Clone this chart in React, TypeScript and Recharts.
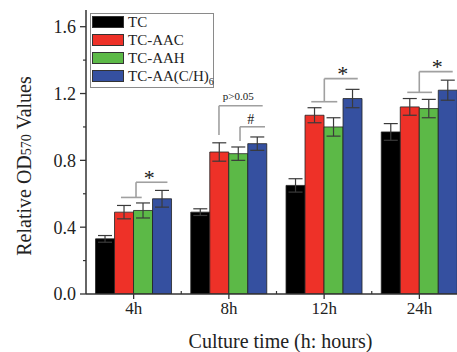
// Relative OD570 bar chart with error bars and significance brackets

import { BarChart, Bar, XAxis, YAxis, ErrorBar, Legend, Label, ReferenceLine, ReferenceDot } from 'recharts'

const FONT = '"Liberation Serif", "Times New Roman", serif'

const categories = ['4h', '8h', '12h', '24h']
const tc = [0.33, 0.49, 0.65, 0.97]
const tcErr = [0.02, 0.02, 0.04, 0.05]
const aac = [0.49, 0.85, 1.07, 1.12]
const aacErr = [0.04, 0.055, 0.045, 0.05]
const aah = [0.5, 0.84, 1.0, 1.11]
const aahErr = [0.045, 0.04, 0.055, 0.055]
const aach = [0.57, 0.9, 1.17, 1.22]
const aachErr = [0.05, 0.04, 0.055, 0.06]
const yTicks = [0, 0.2, 0.4, 0.6, 0.8, 1.0, 1.2, 1.4, 1.6]

// brackets in data units (x: group index 0..4 across the bands)
const brackets: [number, number][][] = [
  [[0.367, 0.578], [0.585, 0.578]],
  [[0.525, 0.578], [0.525, 0.669], [0.855, 0.669]],
  [[1.396, 0.952], [1.396, 1.127], [1.855, 1.127]],
  [[1.617, 0.916], [1.617, 1.001], [1.879, 1.001]],
  [[2.365, 1.151], [2.638, 1.151]],
  [[2.502, 1.151], [2.502, 1.289], [2.853, 1.289]],
  [[3.373, 1.207], [3.633, 1.207]],
  [[3.499, 1.207], [3.499, 1.331], [3.85, 1.331]],
]
const marks: { x: number; y: number; text: string; size: number }[] = [
  { x: 0.665, y: 0.7, text: '*', size: 22 },
  { x: 1.599, y: 1.185, text: 'p>0.05', size: 11 },
  { x: 1.729, y: 1.048, text: '#', size: 14 },
  { x: 2.695, y: 1.32, text: '*', size: 22 },
  { x: 3.688, y: 1.365, text: '*', size: 22 },
]

const series = [
  { key: 'tc', err: 'tcErr', color: '#000000', name: 'TC' },
  { key: 'aac', err: 'aacErr', color: '#ee3128', name: 'TC-AAC' },
  { key: 'aah', err: 'aahErr', color: '#5cb947', name: 'TC-AAH' },
  { key: 'aach', err: 'aachErr', color: '#3550a0', name: 'TC-AA(C/H)' },
]

const data = categories.map((name, i) => ({
  name,
  pos: i + 0.5,
  tc: tc[i],
  tcErr: tcErr[i],
  aac: aac[i],
  aacErr: aacErr[i],
  aah: aah[i],
  aahErr: aahErr[i],
  aach: aach[i],
  aachErr: aachErr[i],
}))

function YTick({ x, y, payload }: any) {
  const v = payload.value
  const major = Math.round(v * 10) % 4 === 0
  if (!major) return <line x1={x - 3} x2={x} y1={y} y2={y} stroke="#333" strokeWidth={1.2} />
  return (
    <g>
      <line x1={x - 6} x2={x} y1={y} y2={y} stroke="#333" strokeWidth={1.3} />
      <text x={x - 10} y={y} dy="0.36em" textAnchor="end" fontSize={18} fontFamily={FONT} fill="#222">
        {v.toFixed(1)}
      </text>
    </g>
  )
}

function XTick({ x, y, payload, index }: any) {
  const half = payload.offset || 47.6
  return (
    <g>
      <line x1={x} x2={x} y1={y} y2={y + 5} stroke="#333" strokeWidth={1.3} />
      {index < 3 && <line x1={x + half} x2={x + half} y1={y} y2={y - 3} stroke="#333" strokeWidth={1.2} />}
      <text x={x} y={y + 20} textAnchor="middle" fontSize={17} fontFamily={FONT} fill="#222">
        {payload.value}
      </text>
    </g>
  )
}

function XTitle({ viewBox }: any) {
  return (
    <text x={viewBox.x + viewBox.width / 2 + 4} y={viewBox.y + 54} textAnchor="middle" fontSize={20} fontFamily={FONT} fill="#222">
      Culture time (h: hours)
    </text>
  )
}

function YTitle({ viewBox }: any) {
  const cx = 31
  const cy = viewBox.y + viewBox.height / 2 + 14
  return (
    <text x={cx} y={cy} transform={`rotate(-90 ${cx} ${cy})`} textAnchor="middle" fontSize={20} fontFamily={FONT} fill="#222">
      Relative OD<tspan fontSize={14}>570</tspan> Values
    </text>
  )
}

function MarkText({ viewBox, text, size }: any) {
  return (
    <text
      x={viewBox.x + viewBox.width / 2}
      y={viewBox.y + viewBox.height / 2}
      dy="0.35em"
      textAnchor="middle"
      fontSize={size}
      fontFamily={FONT}
      fill="#1a1a1a"
    >
      {text}
    </text>
  )
}

function LegendBox() {
  return (
    <div
      style={{
        width: 124,
        height: 75,
        border: '1px solid #8a8a8a',
        boxSizing: 'border-box',
        background: '#fff',
        position: 'relative',
        fontFamily: FONT,
        color: '#222',
      }}
    >
      {series.map((s, i) => (
        <div key={s.key}>
          <div
            style={{
              position: 'absolute',
              left: 1,
              top: 2 + i * 18,
              width: 32,
              height: 12,
              background: s.color,
              border: '1px solid #333',
              boxSizing: 'border-box',
            }}
          />
          <div style={{ position: 'absolute', left: 37, top: i * 18 - 1, height: 18, lineHeight: '18px', fontSize: 15, whiteSpace: 'nowrap' }}>
            {s.name}
            {s.key === 'aach' && <sub style={{ fontSize: 10, verticalAlign: -4 }}>6</sub>}
          </div>
        </div>
      ))}
    </div>
  )
}

export default function App() {
  return (
    <div style={{ position: 'fixed', left: 0, top: 0, width: 457, height: 352, overflow: 'hidden', background: '#fff' }}>
      <BarChart
        width={470}
        height={352}
        data={data}
        margin={{ top: 10, right: 3, bottom: 0, left: 0 }}
        barCategoryGap="10%"
        barGap={0}
      >
        <XAxis
          dataKey="name"
          interval={0}
          tickSize={0}
          tickMargin={0}
          tick={<XTick />}
          height={58}
          axisLine={{ stroke: '#333', strokeWidth: 1.5 }}
        >
          <Label content={<XTitle />} />
        </XAxis>
        <XAxis
          xAxisId="num"
          dataKey="pos"
          type="number"
          scale="linear"
          domain={[0, 4]}
          orientation="top"
          height={0}
          tick={false}
          tickLine={false}
          allowDataOverflow
          axisLine={{ stroke: '#333', strokeWidth: 1.5 }}
        />
        <YAxis
          type="number"
          domain={[0, 1.7]}
          ticks={yTicks}
          interval={0}
          width={86}
          tickSize={0}
          tickMargin={0}
          tick={<YTick />}
          allowDataOverflow
          axisLine={{ stroke: '#333', strokeWidth: 1.5 }}
        >
          <Label content={<YTitle />} />
        </YAxis>
        <Legend
          layout="vertical"
          align="center"
          verticalAlign="middle"
          content={<LegendBox />}
          wrapperStyle={{ left: 90, top: 13, width: 124, height: 75 }}
        />
        {series.map((s) => (
          <Bar key={s.key} dataKey={s.key} fill={s.color} stroke="#222" strokeWidth={0.8} isAnimationActive={false}>
            <ErrorBar dataKey={s.err} width={7} stroke="#3a3a3a" strokeWidth={1.2} direction="y" isAnimationActive={false} />
          </Bar>
        ))}
        {brackets.map((pts, i) =>
          pts.slice(1).map((p, j) => (
            <ReferenceLine
              key={`b${i}-${j}`}
              xAxisId="num"
              segment={[
                { x: pts[j][0], y: pts[j][1] },
                { x: p[0], y: p[1] },
              ]}
              stroke="#a0a0a0"
              strokeWidth={1.6}
              ifOverflow="visible"
            />
          ))
        )}
        {marks.map((m, i) => (
          <ReferenceDot
            key={`m${i}`}
            xAxisId="num"
            x={m.x}
            y={m.y}
            r={0}
            fill="none"
            stroke="none"
            ifOverflow="visible"
            label={<MarkText text={m.text} size={m.size} />}
          />
        ))}
      </BarChart>
    </div>
  )
}
